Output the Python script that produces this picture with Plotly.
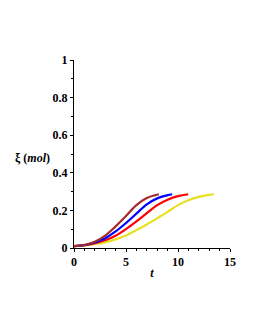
import plotly.graph_objects as go

t_brown = [0, 1, 2, 3, 4, 5, 6, 7, 8.16]
xi_brown = [0.01, 0.016, 0.033, 0.066, 0.115, 0.17, 0.228, 0.266, 0.286]
t_blue = [0, 1, 2, 3, 4, 5, 6, 7, 8, 9, 9.44]
xi_blue = [0.01, 0.015, 0.029, 0.052, 0.088, 0.133, 0.183, 0.232, 0.264, 0.281, 0.286]
t_red = [0, 1, 2, 3, 4, 5, 6, 7, 8, 9, 10, 10.98]
xi_red = [0.01, 0.0145, 0.025, 0.041, 0.065, 0.1, 0.141, 0.185, 0.228, 0.257, 0.276, 0.286]
t_yellow = [0, 1, 2, 3, 4, 5, 6, 7, 8, 9, 10, 11, 12, 13, 13.46]
xi_yellow = [0.01, 0.0136, 0.02, 0.03, 0.046, 0.066, 0.095, 0.125, 0.158, 0.192, 0.228, 0.254, 0.272, 0.283, 0.286]

series = [
    (t_brown, xi_brown, "#A52A2A"),
    (t_blue, xi_blue, "#0000FF"),
    (t_red, xi_red, "#FF0000"),
    (t_yellow, xi_yellow, "#E8E020"),
]

fig = go.Figure()
for t, xi, c in reversed(series):
    fig.add_trace(go.Scatter(x=t, y=xi, mode="lines", line=dict(color=c, width=2.2, shape="spline", smoothing=1.0),
                             showlegend=False))

font = dict(family="Times New Roman, Liberation Serif, serif", size=12, color="black")
fig.update_layout(
    width=255, height=330,
    margin=dict(l=66, r=33, t=52, b=90),
    plot_bgcolor="white", paper_bgcolor="white",
    font=font,
    xaxis=dict(range=[0, 15], tickvals=[0, 5, 10, 15], ticktext=["<b>0</b>", "<b>5</b>", "<b>10</b>", "<b>15</b>"],
               showgrid=False, zeroline=False, showline=True, linecolor="black", linewidth=1,
               ticks="outside", ticklen=3, tickcolor="black",
               minor=dict(ticks="outside", ticklen=2, dtick=1, tickcolor="black"),
               title=dict(text="<b><i>t</i></b>", font=font, standoff=0)),
    yaxis=dict(range=[0, 1], tickvals=[0, 0.2, 0.4, 0.6, 0.8, 1],
               ticktext=["<b>0</b>", "<b>0.2</b>", "<b>0.4</b>", "<b>0.6</b>", "<b>0.8</b>", "<b>1</b>"],
               showgrid=False, zeroline=False, showline=True, linecolor="black", linewidth=1,
               ticks="outside", ticklen=3, tickcolor="black",
               minor=dict(ticks="outside", ticklen=2, dtick=0.1, tickcolor="black")),
    annotations=[dict(text="<b>ξ (<i>mol</i>)</b>", x=0, xref="paper", xanchor="right", xshift=-22,
                      y=0.48, yref="paper", yanchor="middle", showarrow=False, font=font)],
)
fig.write_html("out.html")
